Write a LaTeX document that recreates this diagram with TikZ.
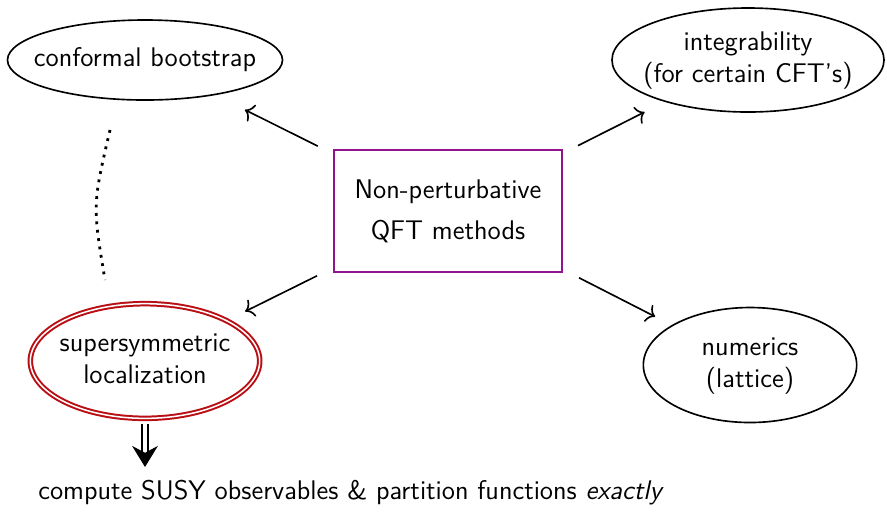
\documentclass[tikz,border=0pt]{standalone}
\usetikzlibrary{shapes.geometric,arrows.meta}
\definecolor{boxpurple}{RGB}{145,20,145}
\definecolor{locred}{RGB}{185,15,20}
\newcommand{\twolines}[1]{\makebox[0pt]{\begin{tabular}{@{}c@{}}#1\end{tabular}}}
\begin{document}
\begin{tikzpicture}[x=0.015cm,y=-0.015cm,
  font=\fontsize{11.5}{13.8}\selectfont\sffamily,
  method/.style={ellipse,draw,line width=0.7pt,inner sep=0pt},
  central/.style={rectangle,draw=boxpurple,line width=0.8pt,inner sep=0pt,
     minimum width=3.42cm,minimum height=1.83cm},
  link/.style={line width=0.7pt,-{To[length=3.5pt,width=8pt]}},
  dotline/.style={line width=1.2pt,dash pattern=on 1.2pt off 2.4pt}]
\useasboundingbox (0,0) rectangle (887,511);
\node[central] (qft) at (448,211) {\renewcommand{\arraystretch}{1.27}\twolines{Non-perturbative\\QFT methods}};
\node[method,minimum width=4.125cm,minimum height=1.2cm] (cb) at (145,60) {\makebox[0pt]{conformal bootstrap}};
\node[method,minimum width=4.08cm,minimum height=1.56cm] (int) at (748,60) {\renewcommand{\arraystretch}{1.0}\twolines{integrability\\(for certain CFT's)}};
\node[ellipse,draw=locred,line width=0.85pt,double,double distance=0.65pt,inner sep=0pt,
  minimum width=3.44cm,minimum height=1.72cm] (loc) at (145,361) {\renewcommand{\arraystretch}{1.0}\twolines{supersymmetric\\localization}};
\node[method,minimum width=3.2cm,minimum height=1.725cm] (num) at (750,365) {\renewcommand{\arraystretch}{1.0}\twolines{numerics\\(lattice)}};
\node (res) at (351,493) {compute SUSY observables \& partition functions \emph{exactly}};
\draw[link,shorten <=7.3pt,shorten >=14pt] (qft) -- (cb);
\draw[link,shorten <=7.2pt,shorten >=9.6pt] (qft) -- (int);
\draw[link,shorten <=7.6pt,shorten >=8.4pt] (qft) -- (loc);
\draw[link,shorten <=7.7pt,shorten >=7.9pt] (qft) -- (num);
\coordinate (d1) at (110,130);
\coordinate (d2) at (105,280);
\draw[dotline] (d1) .. controls (92.5,205) .. (d2);
\coordinate (resTip) at (145,467);
\draw[double,line width=0.7pt,double distance=1.6pt,shorten <=2pt,-{Stealth[length=9pt,width=11pt]}] (loc.south) -- (resTip);
\end{tikzpicture}
\end{document}
